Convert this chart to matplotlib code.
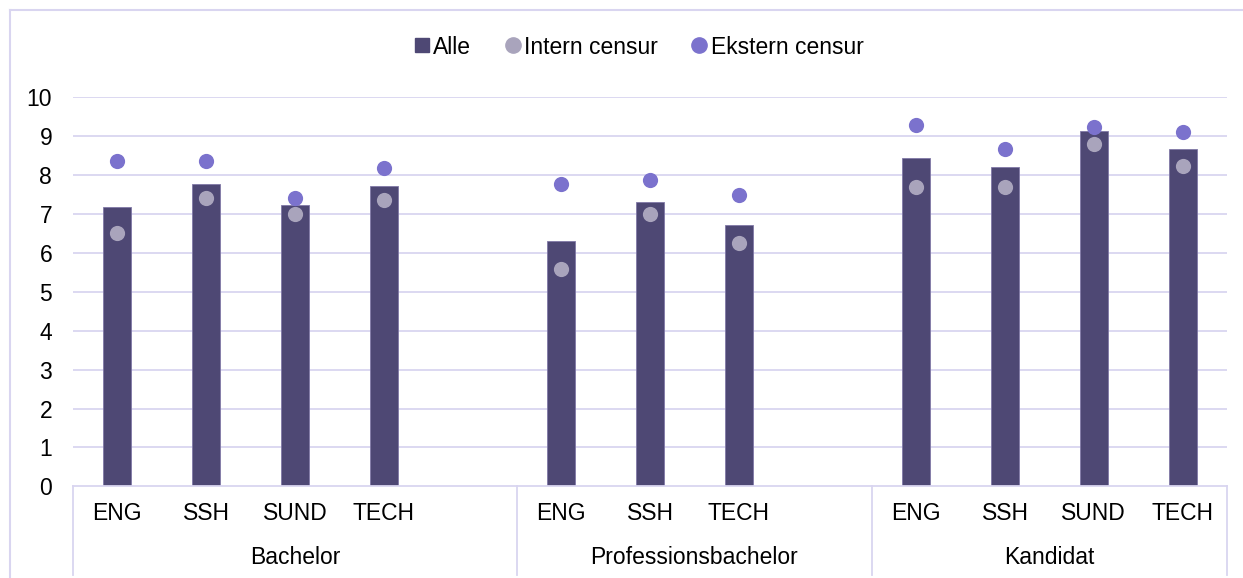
import numpy as np
import matplotlib
matplotlib.use("Agg")
import matplotlib.pyplot as plt
from matplotlib.lines import Line2D
import matplotlib.transforms as mtransforms

plt.rcParams['font.family'] = ['Liberation Sans', 'DejaVu Sans']

# data
groups = ["Bachelor", "Professionsbachelor", "Kandidat"]
subcats = [["ENG", "SSH", "SUND", "TECH"],
           ["ENG", "SSH", "TECH"],
           ["ENG", "SSH", "SUND", "TECH"]]
slots_per_group = [5, 4, 4]   # Excel keeps empty slots after Bachelor/Prof
alle = [7.19, 7.78, 7.22, 7.71,
        6.31, 7.31, 6.72,
        8.43, 8.20, 9.13, 8.67]
intern = [6.50, 7.40, 6.99, 7.35,
          5.58, 6.99, 6.26,
          7.69, 7.70, 8.80, 8.24]
ekstern = [8.36, 8.36, 7.42, 8.19,
           7.77, 7.87, 7.49,
           9.30, 8.67, 9.24, 9.12]
yticks = list(range(0, 11))

bar_col = "#4e4874"
int_col = "#a9a4bc"
ext_col = "#7b72cd"
grid_col = "#d9d5f0"
FS = 16.5

# slot positions
xpos, labels, starts = [], [], []
s = 0
for g, subs, n in zip(groups, subcats, slots_per_group):
    starts.append(s)
    for i, lab in enumerate(subs):
        xpos.append(s + i)
        labels.append(lab)
    s += n
starts.append(s)
xpos = np.array(xpos)

fig = plt.figure(figsize=(12.43, 5.78), dpi=100)
W, H = 1243, 578
x0, x1 = 73, 1227
y0, y1 = 486.3, 97.3
ax = fig.add_axes([x0 / W, 1 - y0 / H, (x1 - x0) / W, (y0 - y1) / H])

ax.bar(xpos, alle, width=0.315, color=bar_col, edgecolor="#8079a6",
       linewidth=0.6, zorder=2, label="Alle")
ax.scatter(xpos, intern, s=120, color=int_col, zorder=3, label="Intern censur",
           linewidths=0)
ax.scatter(xpos, ekstern, s=120, color=ext_col, zorder=3, label="Ekstern censur",
           linewidths=0)

ax.set_xlim(-0.5, s - 0.5)
ax.set_ylim(0, 10)
ax.set_yticks(yticks)
ax.set_yticklabels([str(t) for t in yticks], fontsize=FS)
ax.tick_params(axis="y", length=0, pad=15)
ax.set_xticks([])
for t in yticks[1:]:
    ax.axhline(t, color=grid_col, lw=1.3, zorder=1)
for side in ["top", "right", "left"]:
    ax.spines[side].set_visible(False)
ax.spines["bottom"].set_color(grid_col)
ax.spines["bottom"].set_linewidth(1.3)

trans = mtransforms.blended_transform_factory(ax.transData, ax.transAxes)
bottom = -(575 - y0) / (y0 - y1)
for b in starts:
    ax.plot([b - 0.5, b - 0.5], [0, bottom], color=grid_col, lw=1.3,
            transform=trans, clip_on=False)
for x, lab in zip(xpos, labels):
    ax.text(x, -(514 - y0) / (y0 - y1), lab, transform=trans, ha="center",
            va="center", fontsize=FS)
for i, g in enumerate(groups):
    mid = (starts[i] + starts[i + 1] - 1) / 2
    ax.text(mid, -(557 - y0) / (y0 - y1), g, transform=trans, ha="center",
            va="center", fontsize=FS)

leg = fig.legend(handles=[
    Line2D([], [], marker="s", color=bar_col, ls="", markersize=10),
    Line2D([], [], marker="o", color=int_col, ls="", markersize=11),
    Line2D([], [], marker="o", color=ext_col, ls="", markersize=11)],
    labels=["Alle", "Intern censur", "Ekstern censur"],
    loc="center", bbox_to_anchor=(637 / W, 1 - 47 / H), ncol=3, frameon=False,
    fontsize=FS, handletextpad=0.0, columnspacing=1.3, handlelength=1.0)

# chart frame (left and top edges visible)
fig.add_artist(Line2D([9.5 / W, 9.5 / W], [0, 1 - 9.5 / H], color=grid_col,
                      lw=1.5, transform=fig.transFigure))
fig.add_artist(Line2D([9.5 / W, 1], [1 - 9.5 / H, 1 - 9.5 / H], color=grid_col,
                      lw=1.5, transform=fig.transFigure))

fig.savefig("out.png", dpi=100)
